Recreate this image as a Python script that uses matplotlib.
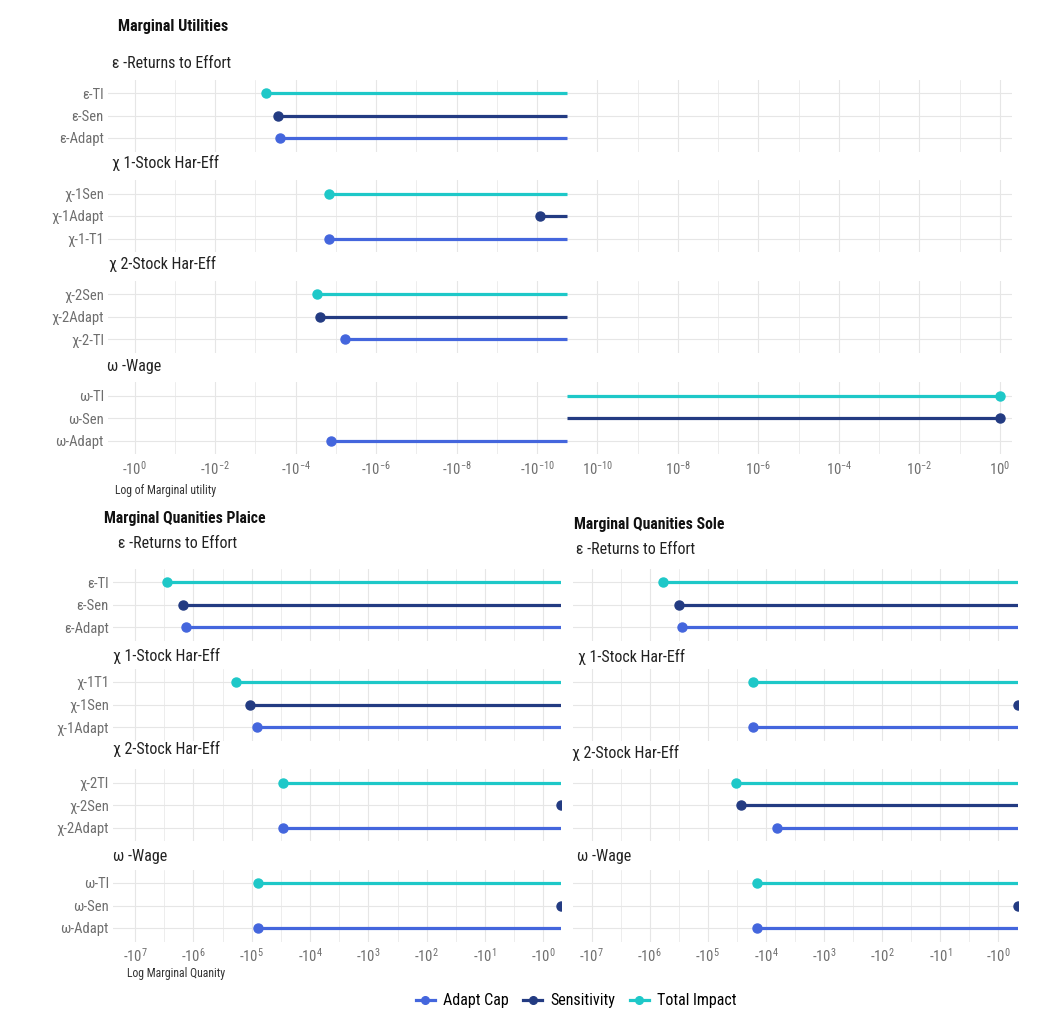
import matplotlib
matplotlib.use("Agg")
import matplotlib.pyplot as plt
import matplotlib.font_manager as fm
import numpy as np
from matplotlib.lines import Line2D

# pick a condensed face if one is installed
names = {f.name for f in fm.fontManager.ttflist}
FAMILY, STRETCH = "Roboto", "normal"
for cand in ["Roboto Condensed", "Liberation Sans Narrow", "Noto Sans Condensed", "Open Sans Condensed"]:
    if cand in names:
        FAMILY = cand
        break
else:
    if any(f.name == "DejaVu Sans" and str(f.stretch) == "condensed" for f in fm.fontManager.ttflist):
        FAMILY, STRETCH = "DejaVu Sans", "condensed"

plt.rcParams.update({
    "font.family": [FAMILY, "DejaVu Sans"],
    "font.stretch": STRETCH,
    "mathtext.fontset": "custom",
    "mathtext.rm": FAMILY,
    "mathtext.it": FAMILY + ":italic",
    "mathtext.bf": FAMILY + ":bold",
})

COLOR_ADAPT = "#4466dd"
COLOR_SENS = "#233b82"
COLOR_TOTAL = "#1ec8c8"
GRID = "#e6e6e6"
TICK_GRAY = "#6e6e6e"

# --- data ---
facet_titles = ["ε -Returns to Effort", "χ 1-Stock Har-Eff", "χ 2-Stock Har-Eff", "ω -Wage"]

mu_labels = [["ε-TI", "ε-Sen", "ε-Adapt"],
             ["χ-1Sen", "χ-1Adapt", "χ-1-T1"],
             ["χ-2Sen", "χ-2Adapt", "χ-2-TI"],
             ["ω-TI", "ω-Sen", "ω-Adapt"]]
mu_total = [-5.6e-4, -1.5e-5, -3.0e-5, 1.0]
mu_sens = [-2.8e-4, -8.5e-11, -2.5e-5, 1.0]
mu_adapt = [-2.5e-4, -1.5e-5, -6.0e-6, -1.35e-5]

plaice_labels = [["ε-TI", "ε-Sen", "ε-Adapt"],
                 ["χ-1T1", "χ-1Sen", "χ-1Adapt"],
                 ["χ-2TI", "χ-2Sen", "χ-2Adapt"],
                 ["ω-TI", "ω-Sen", "ω-Adapt"]]
plaice_total = [-2.8e6, -1.9e5, -2.9e4, -7.8e4]
plaice_sens = [-1.5e6, -1.07e5, -0.5, -0.5]
plaice_adapt = [-1.35e6, -8.3e4, -2.9e4, -7.8e4]

sole_total = [-6.0e5, -1.7e4, -3.3e4, -1.45e4]
sole_sens = [-3.2e5, -0.46, -2.7e4, -0.46]
sole_adapt = [-2.8e5, -1.7e4, -6.5e3, -1.45e4]

mu_major = [-1, -1e-2, -1e-4, -1e-6, -1e-8, -1e-10, 1e-10, 1e-8, 1e-6, 1e-4, 1e-2, 1]
mu_major_labels = ["-10$^{0}$", "-10$^{-2}$", "-10$^{-4}$", "-10$^{-6}$", "-10$^{-8}$", "-10$^{-10}$",
                   "10$^{-10}$", "10$^{-8}$", "10$^{-6}$", "10$^{-4}$", "10$^{-2}$", "10$^{0}$"]
mu_minor = [-1e-1, -1e-3, -1e-5, -1e-7, -1e-9, 1e-9, 1e-7, 1e-5, 1e-3, 1e-1]

mq_major = [-1e7, -1e6, -1e5, -1e4, -1e3, -1e2, -1e1, -1]
mq_major_labels = ["-10$^{7}$", "-10$^{6}$", "-10$^{5}$", "-10$^{4}$",
                   "-10$^{3}$", "-10$^{2}$", "-10$^{1}$", "-10$^{0}$"]
mq_minor = [-10 ** 6.5, -10 ** 5.5, -10 ** 4.5, -10 ** 3.5, -10 ** 2.5, -10 ** 1.5, -10 ** 0.5]

# signed log transform: decades on both sides of zero, zero in the middle
C = 10.75


def fwd(x):
    x = np.asarray(x, dtype=float)
    a = np.abs(x)
    l = np.log10(np.where(a > 0, a, 1e-300)) + C
    return np.sign(x) * np.clip(l, 0, None)


def inv(u):
    u = np.asarray(u, dtype=float)
    return np.sign(u) * 10 ** (np.abs(u) - C)


W, H = 1038, 1028
fig = plt.figure(figsize=(W / 100, H / 100), dpi=100)


def add_facet(x0, x1, row0):
    y0, y1 = row0 - 13.5, row0 + 58.5
    return fig.add_axes([x0 / W, 1 - y1 / H, (x1 - x0) / W, (y1 - y0) / H])


def ftext(x, y, s, **kw):
    fig.text(x / W, 1 - y / H, s, va="center", ha="left", **kw)


def draw_facet(ax, vals, labels, xlim, major, major_labels, minor, show_x, show_y):
    ax.set_xscale("function", functions=(fwd, inv))
    colors = [COLOR_TOTAL, COLOR_SENS, COLOR_ADAPT]
    for i, (v, c) in enumerate(zip(vals, colors)):
        ax.plot([v, 0], [i, i], color=c, lw=2.3, solid_capstyle="butt", zorder=3)
        ax.plot([v], [i], "o", color=c, ms=6.5, zorder=4)
    ax.set_xlim(*xlim)
    ax.set_ylim(2.6, -0.6)
    ax.set_yticks([0, 1, 2])
    ax.set_xticks(major)
    ax.set_xticks(minor, minor=True)
    if show_x:
        ax.set_xticklabels(major_labels)
    else:
        ax.set_xticklabels([])
    if show_y:
        ax.set_yticklabels(labels)
    else:
        ax.set_yticklabels([])
    ax.tick_params(which="both", length=0, colors=TICK_GRAY, labelsize=10.5)
    ax.tick_params(axis="x", pad=4)
    ax.tick_params(axis="y", pad=3)
    ax.grid(which="major", color=GRID, lw=0.8)
    ax.grid(which="minor", axis="x", color=GRID, lw=0.5)
    ax.set_axisbelow(True)
    for s in ax.spines.values():
        s.set_visible(False)


# --- Marginal Utilities ---
mu_rows = [93, 193.5, 294.3, 395.5]
mu_strip = [(112, 63), (112, 163), (109, 264), (107, 366)]
for k in range(4):
    ax = add_facet(108, 1012, mu_rows[k])
    draw_facet(ax, [mu_total[k], mu_sens[k], mu_adapt[k]], mu_labels[k],
               (-4.6, 2.0), mu_major, mu_major_labels, mu_minor,
               show_x=(k == 3), show_y=True)
    ftext(*mu_strip[k], facet_titles[k], fontsize=11.5, color="#222222")

ftext(118, 26, "Marginal Utilities", fontsize=11.5, fontweight="bold", color="#111111")
ftext(115, 490, "Log of Marginal utility", fontsize=8.5, color="#333333")

# --- Marginal Quantities Plaice / Sole ---
mq_rows = [582, 682, 782.5, 883]
plaice_strip = [(118, 543), (113, 656), (113, 749), (113, 856)]
sole_strip = [(576, 549), (578, 657), (572, 753), (577, 857)]
for k in range(4):
    ax = add_facet(113, 561, mq_rows[k])
    draw_facet(ax, [plaice_total[k], plaice_sens[k], plaice_adapt[k]], plaice_labels[k],
               (-2.4e7, -0.5), mq_major, mq_major_labels, mq_minor,
               show_x=(k == 3), show_y=True)
    ftext(*plaice_strip[k], facet_titles[k], fontsize=11.5, color="#222222")

    ax = add_facet(573, 1018, mq_rows[k])
    draw_facet(ax, [sole_total[k], sole_sens[k], sole_adapt[k]], plaice_labels[k],
               (-2.1e7, -0.46), mq_major, mq_major_labels, mq_minor,
               show_x=(k == 3), show_y=False)
    ftext(*sole_strip[k], facet_titles[k], fontsize=11.5, color="#222222")

ftext(104, 519, "Marginal Quanities Plaice", fontsize=11.3, fontweight="bold", color="#111111")
ftext(574, 525, "Marginal Quanities Sole", fontsize=11.3, fontweight="bold", color="#111111")
ftext(127, 974, "Log Marginal Quanity", fontsize=8.5, color="#333333")

handles = [Line2D([], [], color=c, lw=2.3, marker="o", ms=5.5)
           for c in [COLOR_ADAPT, COLOR_SENS, COLOR_TOTAL]]
fig.legend(handles, ["Adapt Cap", "Sensitivity", "Total Impact"],
           loc="center", bbox_to_anchor=(576 / W, 1 - 1001 / H), ncol=3,
           frameon=False, fontsize=11.5, handlelength=1.2, handletextpad=0.5,
           columnspacing=0.9)

fig.savefig("out.png", dpi=100, facecolor="white")
